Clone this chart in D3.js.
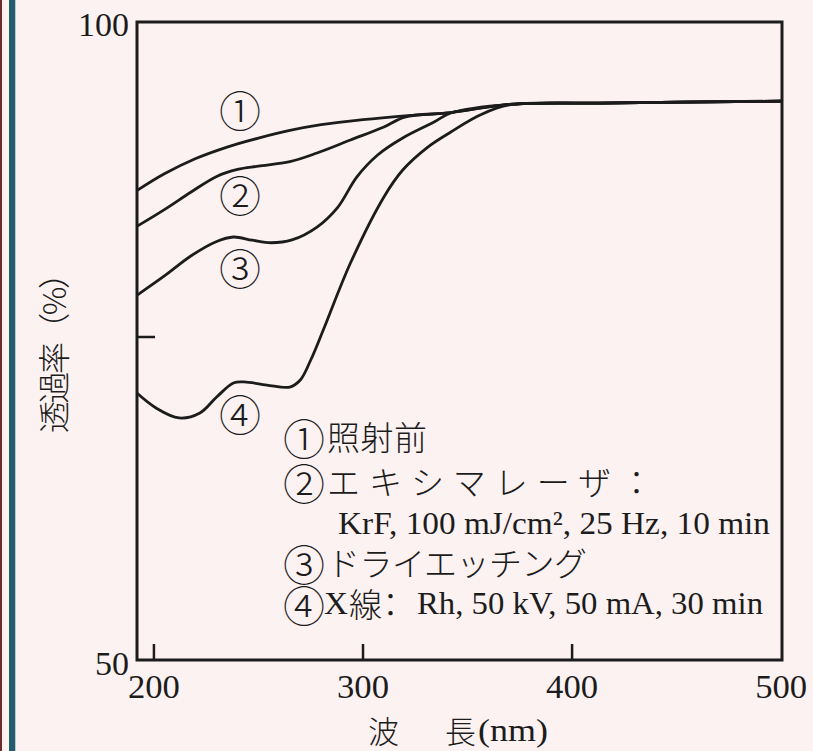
<!DOCTYPE html>
<html><head><meta charset="utf-8">
<script src="https://cdn.jsdelivr.net/npm/d3@7"></script>
<style>
html,body{margin:0;padding:0;background:#fdf2f2;}
svg{display:block;}
</style></head>
<body>
<svg id="chart" width="813" height="751"></svg>
<script>
// ---- data ----
const xTicks = [200, 300, 400];
const xTickLabels = [200, 300, 400, 500];
const yTicks = [50, 75, 100];
const yTickLabels = [50, 100];
const curveLabels = ["①", "②", "③", "④"];

const wl1 = [192, 205, 220, 235, 250, 265, 280, 300, 320, 342, 370, 413, 500];
const t1  = [86.8, 88.1, 89.3, 90.2, 90.9, 91.5, 91.95, 92.35, 92.65, 92.9, 93.55, 93.65, 93.8];
const wl2 = [192, 205, 218, 230, 240, 250, 265, 278, 294, 310, 320, 342, 370, 413, 500];
const t2  = [84.0, 85.3, 86.7, 87.9, 88.45, 88.7, 89.05, 89.73, 90.75, 91.77, 92.55, 92.9, 93.55, 93.65, 93.8];
const wl3 = [192, 205, 218, 230, 238, 247, 256, 266, 278, 288, 297, 307, 319, 334, 342, 370, 413, 500];
const t3  = [78.6, 80.1, 81.7, 82.8, 83.15, 82.9, 82.7, 82.92, 83.93, 85.5, 87.85, 89.58, 90.91, 92.16, 92.87, 93.55, 93.65, 93.8];
const wl4 = [192, 201, 212, 222, 230, 238, 243, 254, 265, 270, 275, 281, 294, 310, 319, 331, 342, 356, 370, 413, 500];
const t4  = [70.9, 69.75, 68.97, 69.36, 70.61, 71.71, 71.79, 71.55, 71.39, 71.94, 73.51, 75.86, 81.11, 86.29, 88.4, 90.2, 91.38, 92.71, 93.5, 93.65, 93.8];

const series = [[wl1, t1], [wl2, t2], [wl3, t3], [wl4, t4]];

// ---- layout ----
const svg = d3.select("#chart");
const x = d3.scaleLinear().domain([191.9, 500.4]).range([137, 782]);
const y = d3.scaleLinear().domain([50, 100]).range([660, 22]);

const ink = "#1c1c1c";
const serif = "'Liberation Serif','Times New Roman',serif";
const cjk = "'Noto Sans CJK JP','Noto Sans CJK SC',sans-serif";

// side stripes
svg.append("rect").attr("x", 0).attr("y", 0).attr("width", 2).attr("height", 751).attr("fill", "#6e2c30");
svg.append("rect").attr("x", 9).attr("y", 0).attr("width", 6).attr("height", 751).attr("fill", "#245e6c");
svg.append("rect").attr("x", 15).attr("y", 0).attr("width", 1).attr("height", 751).attr("fill", "#b9ccd2");

// frame
svg.append("rect")
  .attr("x", x.range()[0]).attr("y", y.range()[1])
  .attr("width", x.range()[1] - x.range()[0])
  .attr("height", y.range()[0] - y.range()[1])
  .attr("fill", "none").attr("stroke", ink).attr("stroke-width", 3);

// x ticks (inward)
svg.append("g").selectAll("line").data(xTicks).join("line")
  .attr("x1", d => x(d)).attr("x2", d => x(d))
  .attr("y1", y(50)).attr("y2", y(50) - 16)
  .attr("stroke", ink).attr("stroke-width", 2.5);
svg.append("g").selectAll("text").data(xTickLabels).join("text")
  .attr("x", d => x(d)).attr("y", 698)
  .attr("text-anchor", "middle")
  .attr("font-family", serif).attr("font-size", 34).attr("fill", ink)
  .attr("textLength", 52).attr("lengthAdjust", "spacingAndGlyphs")
  .text(d => d);

// y ticks (inward)
svg.append("g").selectAll("line").data(yTicks.filter(d => d > 50 && d < 100)).join("line")
  .attr("x1", x(191.9)).attr("x2", x(191.9) + 18)
  .attr("y1", d => y(d) - 4).attr("y2", d => y(d) - 4)
  .attr("stroke", ink).attr("stroke-width", 2.5);
svg.append("g").selectAll("text").data(yTickLabels).join("text")
  .attr("x", 129)
  .attr("y", d => d === 100 ? 36 : 675)
  .attr("text-anchor", "end")
  .attr("font-family", serif).attr("font-size", 34).attr("fill", ink)
  .attr("textLength", d => d === 100 ? 51 : 34).attr("lengthAdjust", "spacingAndGlyphs")
  .text(d => d);

// curves
const line = d3.line().curve(d3.curveCatmullRom.alpha(0.5))
  .x(d => x(d[0])).y(d => y(d[1]));
svg.append("g").selectAll("path").data(series).join("path")
  .attr("d", s => line(s[0].map((w, i) => [w, s[1][i]])))
  .attr("fill", "none").attr("stroke", ink).attr("stroke-width", 2.8)
  .attr("stroke-linejoin", "round");

// curve labels
const labelPos = [[240, 108], [240, 193], [240, 266], [240, 412]];
svg.append("g").selectAll("text").data(curveLabels).join("text")
  .attr("x", (d, i) => labelPos[i][0]).attr("y", (d, i) => labelPos[i][1])
  .attr("text-anchor", "middle").attr("dominant-baseline", "central")
  .attr("font-family", cjk).attr("font-size", 42).attr("font-weight", 300).attr("fill", ink)
  .text(d => d);

// legend
const leg = svg.append("g").attr("fill", ink);
function circ(txt, xc, yc) {
  leg.append("text").attr("x", xc).attr("y", yc)
    .attr("text-anchor", "middle").attr("dominant-baseline", "central")
    .attr("font-family", cjk).attr("font-size", 42).attr("font-weight", 300).text(txt);
}
function cj(txt, x0, yc, len) {
  const t = leg.append("text").attr("x", x0).attr("y", yc)
    .attr("dominant-baseline", "central")
    .attr("font-family", cjk).attr("font-size", 33).attr("font-weight", 300).text(txt);
  if (len) t.attr("textLength", len).attr("lengthAdjust", "spacing");
  return t;
}
function sf(txt, x0, yc, len) {
  const t = leg.append("text").attr("x", x0).attr("y", yc + 11)
    .attr("font-family", serif).attr("font-size", 32).text(txt);
  if (len) t.attr("textLength", len).attr("lengthAdjust", "spacingAndGlyphs");
  return t;
}
const rows = [436, 481, 523, 562, 603];
circ("①", 304, rows[0]);
cj("照射前", 327, rows[0], 100);
circ("②", 304, rows[1]);
cj("エキシマレーザ：", 327, rows[1], 326);
sf("KrF, 100 mJ/cm², 25 Hz, 10 min", 338, rows[2], 432);
circ("③", 304, rows[3]);
cj("ドライエッチング", 327, rows[3], 260);
circ("④", 304, rows[4]);
sf("X", 324, rows[4], 24);
cj("線：", 349, rows[4], 58);
sf("Rh, 50 kV, 50 mA, 30 min", 417, rows[4], 346);

// axis titles
svg.append("text").attr("x", 368).attr("y", 729).attr("dominant-baseline", "central")
  .attr("font-family", cjk).attr("font-size", 31).attr("font-weight", 300).attr("fill", ink).text("波");
svg.append("text").attr("x", 445).attr("y", 729).attr("dominant-baseline", "central")
  .attr("font-family", cjk).attr("font-size", 31).attr("font-weight", 300).attr("fill", ink).text("長");
svg.append("text").attr("x", 478).attr("y", 741)
  .attr("font-family", serif).attr("font-size", 31).attr("fill", ink)
  .attr("textLength", 70).attr("lengthAdjust", "spacingAndGlyphs").text("(nm)");

svg.append("text")
  .attr("transform", "translate(52,345) rotate(-90)")
  .attr("text-anchor", "middle").attr("dominant-baseline", "central")
  .attr("font-family", cjk).attr("font-size", 32).attr("font-weight", 300).attr("fill", ink)
  .attr("textLength", 176).attr("lengthAdjust", "spacing")
  .text("透過率（%）");
</script>
</body></html>
